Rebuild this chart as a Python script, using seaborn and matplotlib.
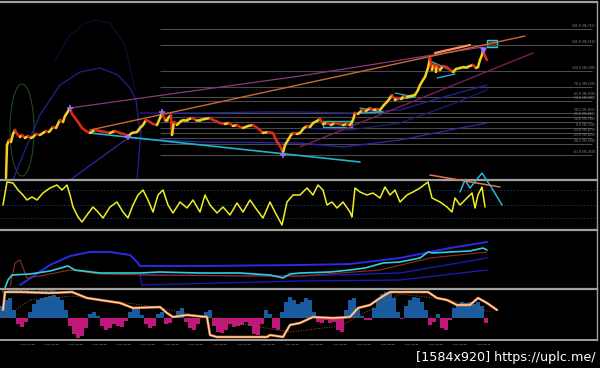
import numpy as np
import pandas as pd
import matplotlib
matplotlib.use("Agg")
import matplotlib.pyplot as plt
from matplotlib.patches import Ellipse, Rectangle
import seaborn as sns

sns.set_theme(style="dark")
plt.rcParams.update({"figure.facecolor": "black", "axes.facecolor": "black",
                     "savefig.facecolor": "black"})
plt.rcParams['font.family'] = ['DejaVu Sans']

# ---------------- data ----------------
# main price path (bar index, price)
price_bar = [6, 7, 9, 11, 13, 15, 17, 20, 22, 25, 28, 31, 33, 36, 40, 43, 46, 49, 53, 56,
             60, 63, 65, 67, 70, 72, 75, 78, 82, 86, 90, 95, 100, 105, 110, 115, 120, 124,
             128, 132, 137, 140, 143, 146, 150, 153, 157, 160, 162, 165, 167, 169, 171,
             172, 174, 177, 181, 184, 187, 192, 196, 200, 205, 210, 213, 216, 220, 225,
             229, 233, 237, 240, 243, 248, 253, 256, 260, 263, 268, 273, 276, 278, 281,
             283, 285, 288, 291, 293, 297, 300, 304, 307, 310, 313, 317, 320, 323, 327,
             331, 335, 339, 343, 347, 350, 353, 355, 358, 362, 366, 370, 374, 377, 380,
             384, 387, 390, 392, 395, 397, 401, 404, 407, 411, 415, 418, 420, 423, 425,
             428, 430, 432, 434, 436, 437, 440, 443, 447, 450, 453, 456, 460, 464, 467,
             470, 473, 476, 478, 480, 482, 483, 485, 487]
price = [95.22, 95.55, 95.60, 95.58, 95.66, 95.70, 95.66, 95.63, 95.65, 95.62, 95.64,
         95.62, 95.63, 95.66, 95.65, 95.67, 95.69, 95.68, 95.73, 95.72, 95.80, 95.78,
         95.84, 95.87, 95.92, 95.86, 95.82, 95.78, 95.72, 95.69, 95.67, 95.70, 95.69,
         95.68, 95.67, 95.69, 95.67, 95.66, 95.64, 95.67, 95.68, 95.72, 95.75, 95.80,
         95.78, 95.76, 95.75, 95.82, 95.87, 95.80, 95.80, 95.83, 95.85, 95.65, 95.78,
         95.75, 95.79, 95.80, 95.80, 95.82, 95.80, 95.80, 95.81, 95.82, 95.80, 95.79,
         95.77, 95.76, 95.77, 95.74, 95.75, 95.73, 95.72, 95.74, 95.75, 95.73, 95.70,
         95.67, 95.68, 95.67, 95.60, 95.57, 95.52, 95.47, 95.55, 95.60, 95.65, 95.67,
         95.66, 95.67, 95.72, 95.74, 95.73, 95.77, 95.79, 95.81, 95.76, 95.77, 95.75,
         95.77, 95.76, 95.75, 95.76, 95.75, 95.80, 95.87, 95.86, 95.90, 95.89, 95.92,
         95.90, 95.91, 95.90, 95.95, 95.98, 96.02, 96.05, 96.00, 96.02, 96.01, 96.04,
         96.03, 96.04, 96.05, 96.10, 96.15, 96.20, 96.23, 96.32, 96.42, 96.30, 96.36,
         96.28, 96.35, 96.30, 96.34, 96.33, 96.30, 96.28, 96.31, 96.32, 96.33, 96.33,
         96.34, 96.35, 96.32, 96.33, 96.40, 96.45, 96.50, 96.44, 96.40]

level_price = [96.71, 96.55, 96.29, 96.13, 96.03, 95.99, 95.87, 95.83, 95.78, 95.72,
               95.67, 95.62, 95.56, 95.45]
level_name = ["261.8", "161.8", "100.0", "76.4", "61.8", "50.0", "38.2", "23.6",
              "14.6", "0.0", "-14.6", "-23.6", "-38.2", "-61.8"]

swing_bar = [70, 162, 128, 283]
swing_price = [95.92, 95.88, 95.63, 95.45]

# bands / curves on the main chart
arc_bar = [13, 25, 40, 60, 80, 100, 118, 130, 136, 140, 141, 140, 137]
arc_price = [95.20, 95.50, 95.85, 96.15, 96.28, 96.32, 96.25, 96.12, 96.00, 95.85,
             95.70, 95.50, 95.20]
arc2_bar = [55, 70, 85, 97, 110, 125, 135]
arc2_price = [96.40, 96.65, 96.77, 96.80, 96.77, 96.55, 96.10]
bandup_bar = [140, 200, 260, 300, 350, 400, 440, 487]
bandup_price = [95.87, 95.87, 95.88, 95.88, 95.87, 95.90, 96.02, 96.15]
bandlow_bar = [70, 128, 200, 300, 343, 400, 450, 487]
bandlow_price = [95.20, 95.62, 95.58, 95.57, 95.53, 95.60, 95.70, 95.77]
bandmid_bar = [300, 350, 400, 450, 487]
bandmid_price = [95.72, 95.70, 95.77, 95.95, 96.10]

trend_orange = ([90, 525], [95.70, 96.64])
trend_pink = ([70, 300, 483], [95.92, 96.24, 96.53])
trend_purple = ([300, 533], [95.53, 96.47])
trend_cyan = ([90, 360], [95.67, 95.38])
arrow_orange = ([435, 470], [96.47, 96.55])

# oscillator panel (0-100)
osc_bar = [3, 7, 13, 18, 23, 27, 32, 37, 43, 50, 57, 62, 67, 70, 73, 78, 82, 87, 93,
           98, 103, 110, 117, 123, 128, 133, 138, 143, 148, 153, 158, 163, 168, 173,
           180, 187, 193, 200, 205, 210, 217, 223, 230, 237, 243, 250, 257, 263, 270,
           275, 282, 287, 293, 300, 307, 313, 318, 323, 327, 332, 337, 343, 350, 352,
           355, 360, 367, 373, 380, 385, 390, 395, 400, 407, 413, 420, 428, 432, 440,
           447, 452, 455, 460, 467, 472, 475, 478, 482, 485]
osc = [50, 96, 94, 80, 70, 60, 66, 60, 74, 84, 90, 80, 90, 70, 46, 26, 16, 30, 46, 36,
       24, 46, 56, 36, 24, 50, 70, 80, 60, 36, 70, 80, 50, 34, 56, 44, 60, 36, 70, 50,
       34, 46, 30, 54, 36, 60, 40, 24, 56, 36, 10, 56, 70, 70, 84, 70, 90, 80, 50, 56,
       44, 56, 36, 26, 84, 76, 70, 74, 64, 86, 70, 80, 56, 70, 76, 84, 96, 64, 56, 46,
       36, 64, 50, 64, 74, 44, 70, 86, 46]
zig_bar = [460, 465, 470, 482, 493, 502]
zig_val = [76, 100, 84, 114, 80, 50]
osc_trend = ([430, 500], [110, 86])
osc_levels = [80, 50, 25]

# moving-average panel
ma_bar = [5, 8, 12, 30, 50, 68, 75, 100, 140, 160, 200, 240, 270, 283, 290, 300, 330,
          350, 365, 383, 400, 420, 428, 433, 450, 470, 483, 487]
ma_fast = [0, 8, 13, 14, 17, 22, 18, 15, 15, 16, 15, 15, 13, 10, 14, 15, 16, 18, 20,
           25, 26, 30, 36, 35, 36, 37, 40, 38]
env_up_bar = [20, 35, 50, 70, 90, 110, 130, 137, 140, 200, 300, 350, 400, 450, 487]
env_up = [3, 13, 23, 32, 36, 36, 33, 26, 22, 22, 23, 24, 30, 40, 46]
env_lo_bar = [140, 300, 400, 487]
env_lo = [13, 12, 15, 30]
env_lo2_bar = [140, 142, 300, 400, 487]
env_lo2 = [13, 3, 7, 8, 18]
ma_slow_bar = [10, 15, 20, 27, 40, 70, 100, 150, 250, 300, 380, 430, 487]
ma_slow = [2, 25, 28, 10, 12, 18, 14, 13, 12, 12, 18, 30, 36]

# histogram panel
hist_bar = list(range(2, 490, 4))
hist = [12, 18, 20, 8, -6, -9, -4, 6, 14, 18, 20, 21, 22, 23, 21, 18, 8, -8, -16, -20,
        -18, -10, 4, 6, 2, -8, -12, -10, -6, -8, -9, -3, 6, 10, 9, 3, -6, -10, -8, 4,
        6, -6, -5, 2, 7, 10, -4, -10, -12, -6, 2, 6, 8, -8, -14, -15, -12, -6, -9, -8,
        -7, -4, -8, -16, -17, -6, 8, 4, -10, -12, 6, 16, 21, 18, 14, 16, 20, 18, 6, -4,
        -5, -2, -5, -4, -12, -14, 8, 18, 20, 10, 2, -2, -2, 10, 18, 24, 26, 25, 20, 6,
        -1, 12, 18, 21, 20, 16, 8, -7, -4, 4, -10, -12, -2, 10, 14, 16, 15, 16, 14, 16,
        12, -5]
sig_bar = [3, 5, 20, 50, 72, 87, 120, 133, 160, 167, 173, 187, 207, 210, 217, 267, 270,
           283, 290, 300, 313, 333, 350, 358, 370, 380, 390, 410, 428, 437, 447, 457,
           470, 478, 487, 497]
sig = [8, 26, 26, 25, 26, 20, 15, 10, 11, 5, 1, 3, 1, -17, -19, -19, -17, -19, -7, -5,
       1, 0, 1, 10, 13, 20, 26, 26, 26, 20, 18, 13, 13, 20, 15, 8]
slow_bar = [3, 30, 72, 150, 230, 290, 340, 400, 450, 490]
slow = [0, 18, 22, 12, -4, -14, -8, 24, 18, 6]

time_labels = ["5 Jun 13:45", "5 Jun 17:45", "5 Jun 21:45", "6 Jun 02:45", "6 Jun 06:45",
               "6 Jun 10:45", "6 Jun 14:45", "6 Jun 18:45", "6 Jun 22:45", "7 Jun 03:45",
               "7 Jun 07:45", "7 Jun 11:45", "7 Jun 15:45", "7 Jun 19:45", "7 Jun 23:45",
               "8 Jun 04:45", "8 Jun 08:45", "8 Jun 12:45", "8 Jun 16:45", "8 Jun 20:45",
               "9 Jun 01:45"]
panel_text = "Stoch(5,3,3) 79.274  Signal(3) 80.0951"
watermark = "[1584x920] https://uplc.me/"

# ---------------- layout ----------------
W, H = 600, 368
fig = plt.figure(figsize=(W / 100, H / 100), dpi=100)
GRAY = "#a0a0a0"


def panel(top, bottom):
    ax = fig.add_axes([0, 1 - bottom / H, 597 / W, (bottom - top) / H])
    ax.set_facecolor("black")
    ax.set_xlim(0, 597)
    for s in ["left", "bottom"]:
        ax.spines[s].set_visible(False)
    ax.spines["top"].set_color(GRAY)
    ax.spines["top"].set_linewidth(1.6)
    ax.spines["right"].set_color(GRAY)
    ax.spines["right"].set_linewidth(1.0)
    ax.set_xticks([])
    ax.set_yticks([])
    ax.grid(False)
    return ax


ax1 = panel(2, 179.5)
ax2 = panel(179.5, 230)
ax3 = panel(230, 288.5)
ax4 = panel(288.5, 340)
ax1.set_ylim(95.205, 96.98)
ax2.set_ylim(0, 101)
ax3.set_ylim(-0.5, 58)
ax4.set_ylim(-22, 29.5)

# ---------------- main chart ----------------
ax1.hlines(level_price, 160, 592, color="#4a4a4a", lw=0.8)
for p, n in zip(level_price, level_name):
    ax1.text(595, p + 0.012, f"{n} ({p:.3f})", fontsize=2.2, color="#8a9a8a",
             ha="right", va="bottom")

ax1.add_patch(Ellipse((22, 95.70), 24, 0.92, fill=False, ec="#1d4a1d", lw=0.8))
sns.lineplot(x=arc2_bar, y=arc2_price, ax=ax1, color="#0e0e3a", lw=0.8, sort=False)
sns.lineplot(x=arc_bar, y=arc_price, ax=ax1, color="#22228c", lw=0.9, sort=False)
sns.lineplot(x=bandup_bar, y=bandup_price, ax=ax1, color="#22229a", lw=0.9)
sns.lineplot(x=bandmid_bar, y=bandmid_price, ax=ax1, color="#1e1e80", lw=0.8)
sns.lineplot(x=bandlow_bar, y=bandlow_price, ax=ax1, color="#2a2aa8", lw=0.9)

ax1.plot(*trend_pink, color="#8a3a78", lw=0.9)
ax1.plot(*trend_purple, color="#7a1e5a", lw=1.0)
ax1.plot(*trend_orange, color="#c8683a", lw=1.0)
ax1.plot(*trend_cyan, color="#1fb5c8", lw=1.2)
ax1.plot(*arrow_orange, color="#ff9060", lw=1.6)

# consolidation shapes
ax1.add_patch(Rectangle((323, 95.73), 29, 0.06, fill=False, ec="#1fb5c8", lw=1.0))
ax1.plot([432, 455], [96.38, 96.28], color="#1fb5c8", lw=1.0)
ax1.plot([437, 455], [96.22, 96.26], color="#1fb5c8", lw=1.0)
ax1.plot([395, 415], [96.07, 96.03], color="#1fb5c8", lw=0.9)
ax1.plot([395, 415], [96.00, 96.03], color="#1fb5c8", lw=0.9)
ax1.plot([360, 383], [95.92, 95.88], color="#1fb5c8", lw=0.9)
ax1.plot([360, 383], [95.87, 95.88], color="#1fb5c8", lw=0.9)
ax1.add_patch(Rectangle((487, 96.53), 10, 0.07, fc="#4a2a10", ec="#2ad0d8", lw=1.0))

# price (coloured by direction)
for i in range(1, len(price)):
    c = "#f0d020" if price[i] >= price[i - 1] else "#e02a1a"
    ax1.plot(price_bar[i - 1:i + 1], price[i - 1:i + 1], color=c, lw=1.8,
             solid_capstyle="round")

ax1.scatter(swing_bar, swing_price, marker="+", s=22, color="#9a6cff", lw=1.2, zorder=5)
ax1.scatter([483], [96.50], marker="v", s=14, color="#9a6cff", zorder=5)

# ---------------- oscillator ----------------
ax2.hlines(osc_levels, 0, 597, color="#1e3a6a", lw=0.6, linestyles=(0, (2, 2)))
sns.lineplot(x=osc_bar, y=osc, ax=ax2, color="#f0f020", lw=1.1)
ax2.plot(zig_bar, zig_val, color="#2ab8d0", lw=1.1, clip_on=False, zorder=6)
ax2.plot(*osc_trend, color="#e07850", lw=1.1, clip_on=False, zorder=6)

# ---------------- moving averages ----------------
sns.lineplot(x=env_up_bar, y=env_up, ax=ax3, color="#2a2ae8", lw=1.4)
sns.lineplot(x=env_lo_bar, y=env_lo, ax=ax3, color="#1a1ab0", lw=1.0)
sns.lineplot(x=env_lo2_bar, y=env_lo2, ax=ax3, color="#1a1ab0", lw=1.0)
sns.lineplot(x=ma_slow_bar, y=ma_slow, ax=ax3, color="#8a3020", lw=0.8)
sns.lineplot(x=ma_bar, y=ma_fast, ax=ax3, color="#30d0d8", lw=1.2)

# ---------------- histogram ----------------
hcols = ["#1a5a9e" if v >= 0 else "#c0187a" for v in hist]
ax4.bar(hist_bar, hist, width=4, color=hcols, linewidth=0)
sns.lineplot(x=slow_bar, y=slow, ax=ax4, color="#a05a20", lw=0.7, linestyle=":")
sns.lineplot(x=sig_bar, y=sig, ax=ax4, color="#f08a40", lw=1.8)
sns.lineplot(x=sig_bar, y=sig, ax=ax4, color="#fff0d8", lw=0.6)
ax4.text(2, 28.5, panel_text, fontsize=2.0, color="#c0c0c0", va="top", ha="left")

# x axis
ax4.spines["bottom"].set_visible(True)
ax4.spines["bottom"].set_color(GRAY)
ax4.spines["bottom"].set_linewidth(1.4)
ticks = [-3.3 + 24 * k for k in range(len(time_labels))]
ax4.set_xticks(ticks)
ax4.set_xticklabels(time_labels, fontsize=1.7, color="#d0d0d0", ha="left")
ax4.tick_params(axis="x", colors="#d0d0d0", length=2, width=0.5, pad=1.0,
                labelcolor="#d0d0d0")
ax4.set_xlim(0, 597)

fig.text(596 / W, 1 - 358 / H, watermark, fontsize=9.2, color="white",
         ha="right", va="center")

fig.savefig("out.png", dpi=100, facecolor="black")
